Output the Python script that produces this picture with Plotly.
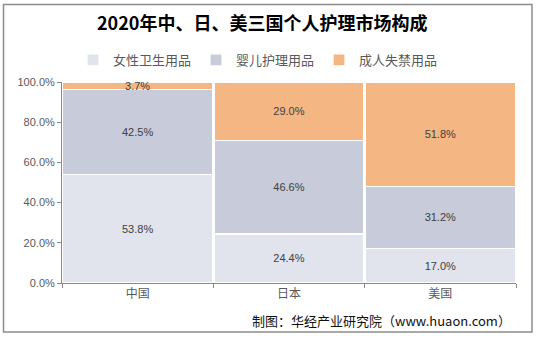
import plotly.graph_objects as go

categories = ["中国", "日本", "美国"]
series_names = ["女性卫生用品", "婴儿护理用品", "成人失禁用品"]
feminine = [53.8, 24.4, 17.0]
baby = [42.5, 46.6, 31.2]
adult = [3.7, 29.0, 51.8]
colors = ["#E1E4EC", "#C8CBDA", "#F4B683"]
ytick_vals = [0, 20, 40, 60, 80, 100]
ytick_text = ["0.0%", "20.0%", "40.0%", "60.0%", "80.0%", "100.0%"]

W, H = 537, 338
L, R, T, B = 62, 516, 82, 283

def px(x):
    return (x - L) / (R - L)

def py(y):
    return (B - y) / (B - T)

fig = go.Figure()
for name, vals, c in zip(series_names, [feminine, baby, adult], colors):
    fig.add_trace(go.Bar(
        x=categories, y=vals, name=name,
        marker=dict(color=c, line=dict(color="white", width=1.2)),
        text=[f"{v:.1f}%" for v in vals],
        textposition="inside", insidetextanchor="middle",
        textfont=dict(color="#404040", size=11, family="Liberation Sans, Arial"),
        hoverinfo="skip",
    ))

fig.update_layout(
    width=W, height=H,
    barmode="stack", bargap=0.01,
    margin=dict(l=L, r=W - R, t=T, b=H - B),
    paper_bgcolor="white", plot_bgcolor="white",
    uniformtext=dict(minsize=11, mode="show"),
    font=dict(family="Noto Sans CJK SC", color="#595959"),
    legend=dict(orientation="h", x=px(258), xanchor="center", y=py(60), yanchor="middle",
                font=dict(size=13, color="#595959"), itemwidth=30, traceorder="normal",
                bgcolor="rgba(0,0,0,0)"),
    showlegend=True,
)
fig.update_yaxes(range=[0, 100], tickvals=ytick_vals, ticktext=ytick_text,
                 showgrid=False, zeroline=False, showline=True, linecolor="#888888",
                 ticks="outside", ticklen=4, tickcolor="#888888",
                 tickfont=dict(size=11, color="#595959", family="Liberation Sans, Arial"))
fig.update_xaxes(showgrid=False, showline=True, linecolor="#888888",
                 ticks="outside", tickson="boundaries", ticklen=4, tickcolor="#888888",
                 tickfont=dict(size=12, color="#595959", family="Noto Sans CJK SC"))

fig.add_annotation(text="<b>2020年中、日、美三国个人护理市场构成</b>", xref="paper", yref="paper",
                   x=px(262), y=py(22), xanchor="center", yanchor="middle", showarrow=False,
                   font=dict(size=18, color="#000000", family="Noto Sans CJK SC"))
fig.add_annotation(text="制图：华经产业研究院（www.huaon.com）", xref="paper", yref="paper",
                   x=px(250), y=py(320), xanchor="left", yanchor="middle", showarrow=False,
                   font=dict(size=13, color="#111111", family="Noto Sans CJK SC"))
fig.add_shape(type="rect", xref="paper", yref="paper",
              x0=px(3.5), x1=px(532), y0=py(332), y1=py(4.5),
              line=dict(color="#8c8c8c", width=1.5), layer="below")

fig.write_html("out.html")
